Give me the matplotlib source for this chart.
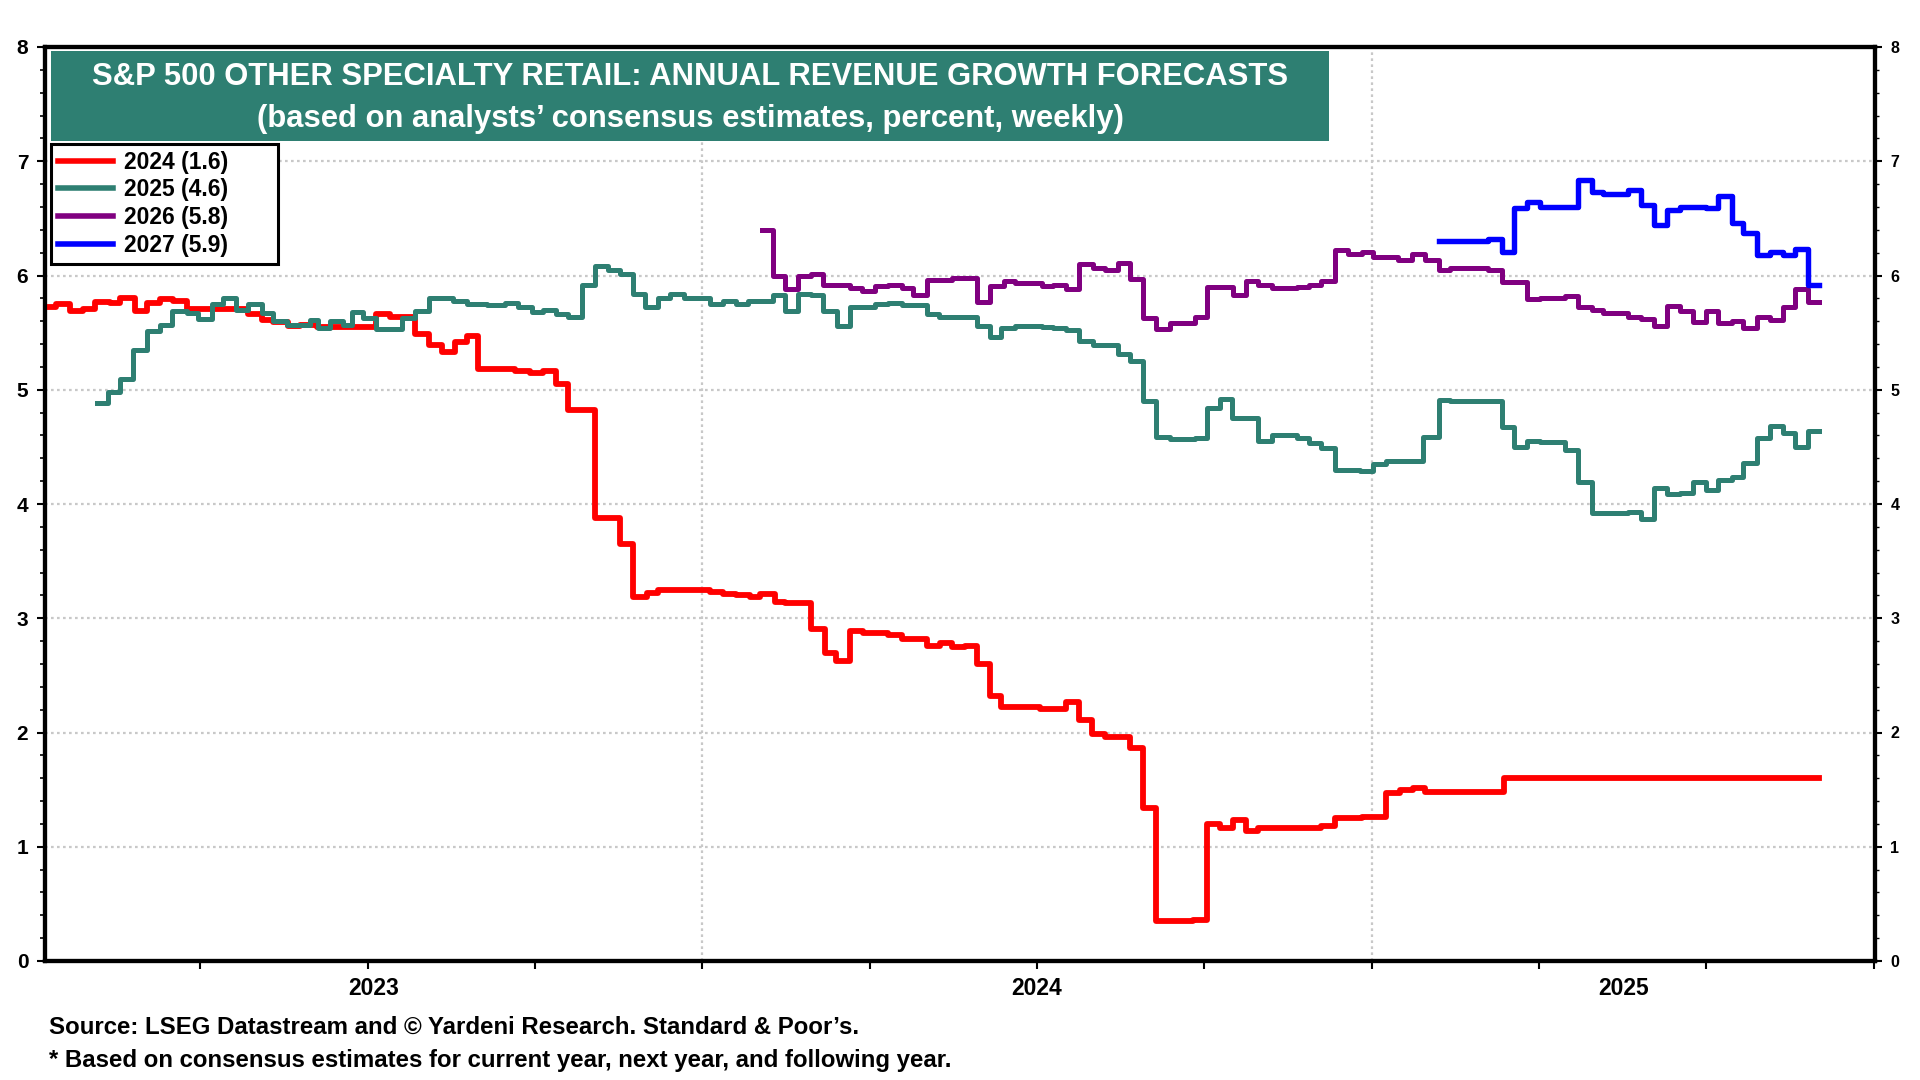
import numpy as np
import matplotlib
matplotlib.use('Agg')
import matplotlib.pyplot as plt
from matplotlib.patches import Rectangle
from matplotlib.ticker import MultipleLocator
import matplotlib.transforms as mtransforms

plt.rcParams['font.family'] = ['Liberation Sans', 'DejaVu Sans']

# ---------------- data (time in decimal years, weekly change points) ----------------
red_t = [2023.020, 2023.035, 2023.055, 2023.075, 2023.093, 2023.115, 2023.130, 2023.152, 2023.170, 2023.190,
         2023.209, 2023.230, 2023.322, 2023.342, 2023.359, 2023.381, 2023.399, 2023.424, 2023.513, 2023.533,
         2023.571, 2023.591, 2023.611, 2023.630, 2023.648, 2023.665, 2023.720, 2023.742, 2023.762, 2023.782,
         2023.800, 2023.840, 2023.877, 2023.897, 2023.917, 2023.934, 2024.011, 2024.031, 2024.051, 2024.071,
         2024.086, 2024.108, 2024.123, 2024.163, 2024.183, 2024.200, 2024.220, 2024.240, 2024.278, 2024.298,
         2024.335, 2024.355, 2024.373, 2024.392, 2024.410, 2024.430, 2024.447, 2024.504, 2024.544, 2024.563,
         2024.582, 2024.602, 2024.639, 2024.658, 2024.678, 2024.733, 2024.754, 2024.773, 2024.793, 2024.812,
         2024.830, 2024.925, 2024.945, 2024.985, 2025.022, 2025.042, 2025.062, 2025.080, 2025.197, 2025.668]
red_v = [5.72, 5.75, 5.69, 5.71, 5.77, 5.76, 5.80, 5.69, 5.76, 5.79,
         5.78, 5.71, 5.66, 5.61, 5.59, 5.56, 5.57, 5.55, 5.66, 5.64,
         5.49, 5.39, 5.33, 5.42, 5.47, 5.18, 5.16, 5.15, 5.16, 5.05,
         4.82, 3.88, 3.65, 3.19, 3.22, 3.25, 3.23, 3.21, 3.20, 3.19,
         3.21, 3.14, 3.13, 2.91, 2.70, 2.63, 2.89, 2.87, 2.85, 2.82,
         2.76, 2.78, 2.75, 2.76, 2.60, 2.32, 2.22, 2.21, 2.27, 2.11,
         1.99, 1.96, 1.86, 1.34, 0.35, 0.36, 1.20, 1.16, 1.23, 1.14,
         1.16, 1.18, 1.25, 1.26, 1.47, 1.50, 1.51, 1.48, 1.60, 1.60]

green_t = [2023.095, 2023.112, 2023.130, 2023.150, 2023.170, 2023.190, 2023.207, 2023.230, 2023.247, 2023.267,
           2023.284, 2023.304, 2023.322, 2023.342, 2023.359, 2023.379, 2023.414, 2023.426, 2023.444, 2023.463,
           2023.476, 2023.493, 2023.513, 2023.551, 2023.571, 2023.591, 2023.628, 2023.648, 2023.678, 2023.705,
           2023.725, 2023.745, 2023.762, 2023.782, 2023.800, 2023.820, 2023.840, 2023.859, 2023.877, 2023.896,
           2023.914, 2023.934, 2023.952, 2023.972, 2024.012, 2024.031, 2024.051, 2024.069, 2024.106, 2024.124,
           2024.143, 2024.163, 2024.181, 2024.201, 2024.221, 2024.258, 2024.278, 2024.298, 2024.335, 2024.353,
           2024.410, 2024.430, 2024.447, 2024.467, 2024.507, 2024.524, 2024.544, 2024.563, 2024.583, 2024.621,
           2024.639, 2024.658, 2024.678, 2024.699, 2024.736, 2024.754, 2024.773, 2024.792, 2024.830, 2024.851,
           2024.888, 2024.907, 2024.925, 2024.945, 2024.983, 2025.002, 2025.022, 2025.077, 2025.100, 2025.117,
           2025.194, 2025.213, 2025.232, 2025.251, 2025.289, 2025.309, 2025.329, 2025.383, 2025.403, 2025.422,
           2025.441, 2025.461, 2025.480, 2025.500, 2025.518, 2025.538, 2025.555, 2025.575, 2025.595, 2025.615,
           2025.632, 2025.652, 2025.668]
green_v = [4.88, 4.98, 5.09, 5.35, 5.51, 5.57, 5.69, 5.67, 5.62, 5.75,
           5.80, 5.70, 5.75, 5.67, 5.60, 5.57, 5.61, 5.54, 5.60, 5.57,
           5.68, 5.63, 5.53, 5.63, 5.69, 5.80, 5.78, 5.75, 5.74, 5.76,
           5.72, 5.68, 5.70, 5.66, 5.64, 5.92, 6.08, 6.05, 6.01, 5.84,
           5.72, 5.80, 5.84, 5.80, 5.75, 5.78, 5.75, 5.78, 5.83, 5.69,
           5.84, 5.83, 5.69, 5.56, 5.72, 5.75, 5.76, 5.74, 5.66, 5.64,
           5.56, 5.46, 5.54, 5.56, 5.55, 5.54, 5.52, 5.43, 5.39, 5.31,
           5.25, 4.90, 4.59, 4.57, 4.58, 4.84, 4.92, 4.75, 4.55, 4.60,
           4.58, 4.53, 4.49, 4.30, 4.29, 4.35, 4.38, 4.59, 4.91, 4.90,
           4.67, 4.50, 4.55, 4.54, 4.47, 4.19, 3.92, 3.93, 3.87, 4.14,
           4.09, 4.10, 4.19, 4.12, 4.21, 4.24, 4.36, 4.58, 4.68, 4.62,
           4.50, 4.64, 4.64]

purple_t = [2024.089, 2024.106, 2024.124, 2024.143, 2024.163, 2024.181, 2024.221, 2024.238, 2024.258, 2024.278,
            2024.298, 2024.315, 2024.335, 2024.373, 2024.410, 2024.430, 2024.450, 2024.467, 2024.507, 2024.524,
            2024.544, 2024.563, 2024.583, 2024.602, 2024.621, 2024.639, 2024.658, 2024.678, 2024.699, 2024.736,
            2024.754, 2024.793, 2024.812, 2024.830, 2024.851, 2024.888, 2024.907, 2024.925, 2024.945, 2024.965,
            2024.985, 2025.002, 2025.040, 2025.060, 2025.080, 2025.100, 2025.117, 2025.174, 2025.194, 2025.232,
            2025.251, 2025.289, 2025.309, 2025.329, 2025.346, 2025.383, 2025.403, 2025.422, 2025.441, 2025.461,
            2025.480, 2025.500, 2025.518, 2025.538, 2025.555, 2025.575, 2025.595, 2025.615, 2025.632, 2025.652,
            2025.668]
purple_v = [6.40, 6.00, 5.88, 6.00, 6.01, 5.92, 5.89, 5.86, 5.91, 5.92,
            5.89, 5.83, 5.96, 5.98, 5.77, 5.91, 5.95, 5.93, 5.91, 5.92,
            5.88, 6.10, 6.07, 6.05, 6.11, 5.97, 5.63, 5.53, 5.58, 5.64,
            5.90, 5.83, 5.95, 5.92, 5.89, 5.90, 5.92, 5.95, 6.22, 6.19,
            6.21, 6.16, 6.14, 6.19, 6.14, 6.05, 6.07, 6.05, 5.94, 5.79,
            5.80, 5.82, 5.72, 5.70, 5.67, 5.64, 5.62, 5.56, 5.73, 5.69,
            5.59, 5.69, 5.58, 5.60, 5.54, 5.64, 5.61, 5.72, 5.88, 5.77,
            5.77]

blue_t = [2025.101, 2025.174, 2025.194, 2025.213, 2025.232, 2025.251, 2025.309, 2025.329, 2025.346, 2025.383,
          2025.403, 2025.422, 2025.441, 2025.461, 2025.500, 2025.518, 2025.538, 2025.555, 2025.575, 2025.595,
          2025.615, 2025.632, 2025.652, 2025.668]
blue_v = [6.30, 6.32, 6.21, 6.59, 6.64, 6.60, 6.84, 6.73, 6.71, 6.75,
          6.62, 6.44, 6.57, 6.60, 6.59, 6.70, 6.46, 6.37, 6.18, 6.21,
          6.18, 6.23, 5.92, 5.92]

series_labels = ['2024 (1.6)', '2025 (4.6)', '2026 (5.8)', '2027 (5.9)']
year_labels = ['2023', '2024', '2025']
y_ticks = [0, 1, 2, 3, 4, 5, 6, 7, 8]

title1 = 'S&P 500 OTHER SPECIALTY RETAIL: ANNUAL REVENUE GROWTH FORECASTS'
title2 = '(based on analysts\u2019 consensus estimates, percent, weekly)'
foot1 = 'Source: LSEG Datastream and \u00a9 Yardeni Research. Standard & Poor\u2019s.'
foot2 = '* Based on consensus estimates for current year, next year, and following year.'

# ---------------- figure ----------------
W, H = 1920, 1080
TEAL = '#2e7f72'
fig = plt.figure(figsize=(19.2, 10.8), dpi=100)
ax = fig.add_axes([45 / W, 1 - 961 / H, (1875 - 45) / W, (961 - 47) / H])

x0, x1 = 2023.018, 2025.752
ax.set_xlim(x0, x1)
ax.set_ylim(0, 8)

grid_kw = dict(color='#c8c8c8', lw=1.6, ls=(0, (1.2, 1.5)), zorder=0)
for yv in y_ticks[1:-1]:
    ax.axhline(yv, **grid_kw)
for xv in [2024.0, 2025.0]:
    ax.axvline(xv, **grid_kw)

styles = [(red_t, red_v, '#ff0000', 4.2),
          (green_t, green_v, TEAL, 3.6),
          (purple_t, purple_v, '#800080', 3.6),
          (blue_t, blue_v, '#0000ff', 3.9)]
for (t, v, c, lw), lab in zip(styles, series_labels):
    assert len(t) == len(v)
    ax.plot(t, v, drawstyle='steps-post', color=c, lw=lw, label=lab, zorder=3)

for s in ax.spines.values():
    s.set_linewidth(3)
    s.set_color('black')

# y axis
ax.set_yticks(y_ticks)
ax.set_yticklabels([str(v) for v in y_ticks], fontsize=15, fontweight='bold')
ax.yaxis.set_minor_locator(MultipleLocator(0.2))
ax.tick_params(axis='y', which='major', direction='out', length=6, width=1.5, pad=6)
ax.tick_params(axis='y', which='minor', direction='out', length=3.5, width=1.2)

ax2 = ax.twinx()
ax2.set_ylim(0, 8)
ax2.set_yticks(y_ticks)
ax2.set_yticklabels([str(v) for v in y_ticks], fontsize=11.5, fontweight='bold')
ax2.yaxis.set_minor_locator(MultipleLocator(0.2))
ax2.tick_params(axis='y', which='major', direction='out', length=5, width=1.5, pad=6)
ax2.tick_params(axis='y', which='minor', direction='out', length=3, width=1.0)
for s in ax2.spines.values():
    s.set_linewidth(3)

# x axis: quarter ticks, year labels centered in the visible part of each year
q_ticks = np.arange(2023.25, 2025.76, 0.25)
ax.set_xticks(q_ticks)
ax.set_xticklabels([''] * len(q_ticks))
ax.tick_params(axis='x', which='major', direction='out', length=6, width=1.5)
lab_pos = [(x0 + 2024.0) / 2, 2024.5, (2025.0 + x1) / 2]
trans = mtransforms.blended_transform_factory(ax.transData, ax.transAxes)
for xp, lab in zip(lab_pos, year_labels):
    ax.text(xp, -0.030, lab, transform=trans, ha='center', va='center',
            fontsize=16.5, fontweight='bold')

# title box
fig.add_artist(Rectangle((51 / W, 1 - 141 / H), (1329 - 51) / W, 90 / H,
                         transform=fig.transFigure, facecolor=TEAL, edgecolor='none', zorder=5))
cx = (51 + 1329) / 2 / W
fig.text(cx, 1 - 77 / H, title1, ha='center', va='center', color='white',
         fontsize=22.3, fontweight='bold', zorder=6)
fig.text(cx, 1 - 119 / H, title2, ha='center', va='center', color='white',
         fontsize=22.3, fontweight='bold', zorder=6)

# legend
leg = ax.legend(loc='upper left', bbox_to_anchor=(51 / W, 1 - 264 / H, (278 - 51) / W, (264 - 144) / H),
                bbox_transform=fig.transFigure, mode='expand',
                frameon=True, fancybox=False, edgecolor='black', framealpha=1,
                prop={'weight': 'bold', 'size': 16.5}, handlelength=2.4, handletextpad=0.5,
                labelspacing=0.2, borderpad=0.3, borderaxespad=0)
leg.get_frame().set_linewidth(2.2)
leg.set_zorder(7)
for h in leg.get_lines():
    h.set_linewidth(4)

# footer
fig.text(49 / W, 1 - 1027 / H, foot1, ha='left', va='center', fontsize=17.3, fontweight='bold')
fig.text(49 / W, 1 - 1060 / H, foot2, ha='left', va='center', fontsize=17.3, fontweight='bold')

fig.savefig('out.png', dpi=100)
